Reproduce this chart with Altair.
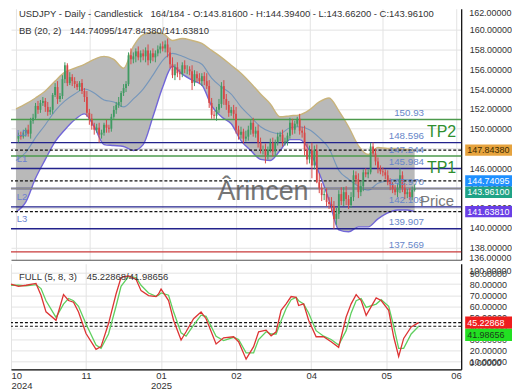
import altair as alt
import pandas as pd

# ---------------- data ----------------
bar_start = 2
first_open = 149.0
closes = [
    149.3, 149.2, 149.6, 149.9, 149.5, 150.8, 151.1, 152.3, 151.9, 152.6,
    152.8, 152.2, 151.7, 151.9, 153.4, 154.2, 153.0, 153.3, 155.0, 156.4,
    154.6, 155.2, 154.8, 154.5, 154.2, 154.6, 153.8, 153.2, 151.6, 151.0,
    150.3, 149.9, 150.1, 149.4, 149.6, 150.4, 150.1, 150.0, 151.2, 151.9,
    152.4, 152.7, 153.6, 154.1, 154.5, 157.4, 157.0, 157.3, 157.8, 157.2,
    157.6, 157.3, 157.9, 156.9, 157.6, 157.2, 157.6, 158.0, 158.3, 158.1,
    158.5, 157.7, 156.5, 155.4, 156.2, 155.6, 155.5, 156.4, 156.0, 156.0,
    155.8, 154.6, 155.5, 155.1, 154.8, 155.3, 154.8, 154.3, 152.6, 151.4,
    151.3, 151.9, 152.5, 154.3, 153.0, 152.4, 151.6, 151.9, 151.5, 149.9,
    149.4, 149.7, 149.0, 149.2, 149.9, 150.6, 149.5, 149.8, 148.6, 147.9,
    147.9, 147.3, 147.9, 148.6, 147.7, 148.6, 149.2, 149.4, 148.6, 148.7,
    149.3, 150.6, 149.9, 150.5, 151.0, 149.8, 149.6, 147.9, 146.9, 147.8,
    146.3, 147.8, 144.6, 144.0, 143.3, 143.4, 142.6, 142.4, 142.2, 140.9,
    141.4, 143.4, 142.7, 143.6, 142.9, 142.3, 143.1, 145.3, 144.9, 143.6,
    144.2, 145.6, 145.4, 145.6, 148.2, 147.5, 146.7, 146.0, 145.7, 145.6,
    145.3, 144.6, 144.3, 143.9, 143.6, 144.0, 145.3, 144.0, 143.4, 143.6,
    143.1, 143.816, 143.961,
]
wick_up = [
    0.3, 0.4, 0.3, 0.2, 0.5, 0.3, 0.4, 0.3, 0.5, 0.3,
    0.4, 0.3, 0.5, 0.3, 0.2, 0.4, 0.6, 0.3, 0.4, 0.3,
    0.2, 0.5, 0.3, 0.4, 0.3, 0.2, 0.4, 0.3, 0.6, 0.4,
    0.5, 0.3, 0.4, 0.5, 0.3, 0.2, 0.5, 0.3, 0.3, 0.4,
    0.3, 0.5, 0.2, 0.4, 0.3, 0.3, 0.7, 0.4, 0.3, 0.5,
    0.3, 0.4, 0.3, 0.6, 0.3, 0.5, 0.3, 0.4, 0.3, 0.5,
    0.4, 0.6, 0.5, 0.7, 0.3, 0.5, 0.4, 0.3, 0.5, 0.4,
    0.3, 0.6, 0.4, 0.3, 0.5, 0.3, 0.4, 0.8, 0.6, 0.5,
    0.4, 0.3, 0.5, 0.4, 0.6, 0.5, 0.4, 0.3, 0.5, 0.7,
    0.4, 0.5, 0.3, 0.6, 0.4, 0.3, 0.5, 0.4, 0.6, 0.5,
    0.4, 0.6, 0.3, 0.4, 0.5, 0.3, 0.4, 0.3, 0.5, 0.4,
    0.3, 0.5, 0.4, 0.3, 0.2, 0.5, 0.4, 0.7, 0.6, 0.5,
    0.8, 0.5, 0.6, 0.9, 0.5, 0.4, 0.6, 0.5, 0.7, 0.5,
    0.6, 0.4, 0.7, 0.5, 0.6, 0.4, 0.5, 0.5, 0.4, 0.6,
    0.5, 0.3, 0.4, 0.3, 0.36, 0.4, 0.5, 0.4, 0.3, 0.4,
    0.3, 0.5, 0.4, 0.3, 0.4, 0.5, 0.7, 0.4, 0.5, 0.3,
    0.4, 0.35, 0.433,
]
wick_dn = [
    0.4, 0.3, 0.2, 0.4, 0.3, 0.5, 0.3, 0.2, 0.4, 0.3,
    0.3, 0.5, 0.4, 0.3, 0.4, 0.2, 0.5, 0.3, 0.3, 0.4,
    0.3, 0.2, 0.5, 0.4, 0.3, 0.4, 0.3, 0.5, 0.4, 0.6,
    0.4, 0.5, 0.3, 0.8, 0.4, 0.3, 0.5, 0.4, 0.3, 0.2,
    0.4, 0.3, 0.5, 0.3, 0.4, 0.2, 0.5, 0.4, 0.6, 0.3,
    0.5, 0.4, 0.6, 0.5, 0.3, 0.4, 0.5, 0.3, 0.4, 0.3,
    0.4, 0.5, 0.4, 0.3, 0.5, 0.4, 0.6, 0.3, 0.4, 0.5,
    0.4, 0.7, 0.3, 0.4, 0.3, 0.5, 0.4, 0.3, 0.5, 0.4,
    0.3, 0.5, 0.3, 0.4, 0.6, 0.5, 0.4, 0.3, 0.5, 0.4,
    0.5, 0.4, 0.5, 0.3, 0.4, 0.5, 0.3, 0.4, 0.5, 0.4,
    0.5, 0.8, 0.4, 0.3, 0.5, 0.4, 0.3, 0.5, 0.4, 0.3,
    0.4, 0.3, 0.5, 0.4, 0.3, 0.4, 0.5, 0.6, 0.5, 0.4,
    1.3, 0.4, 0.1, 0.5, 0.6, 0.5, 0.4, 0.5, 0.6, 1.0,
    0.6, 0.5, 0.4, 0.5, 0.6, 0.4, 0.3, 0.4, 0.5, 0.6,
    0.4, 0.5, 0.3, 0.4, 0.2, 0.3, 0.4, 0.5, 0.3, 0.4,
    0.4, 0.3, 0.5, 0.4, 0.3, 0.5, 0.5, 0.4, 0.5, 0.4,
    0.3, 0.3, 0.154,
]

bb_idx = list(range(1, 162, 4)) + [164]
bb_upper = [152.0, 152.5, 153.1, 153.8, 154.8, 155.7, 156.1, 156.5, 157.0, 157.3,
            157.0, 156.1, 158.3, 159.5, 159.7, 159.6, 158.9, 159.1, 158.9, 158.6,
            157.9, 157.2, 156.4, 155.6, 154.6, 153.5, 152.5, 151.2, 151.3, 151.4,
            151.9, 152.7, 153.1, 151.8, 150.2, 148.3, 147.4, 148.1, 148.0, 148.0,
            147.9, 147.8438]
bb_mid = [146.8, 147.6, 149.1, 150.4, 151.8, 152.8, 153.5, 154.0, 153.6, 152.9,
          152.7, 152.2, 153.0, 154.0, 155.4, 156.9, 157.6, 157.3, 156.9, 156.5,
          155.1, 154.2, 153.5, 152.2, 151.2, 150.2, 149.7, 149.5, 150.1, 150.2,
          149.9, 149.1, 148.0, 145.8, 144.9, 144.2, 143.8, 144.5, 144.75, 144.9,
          144.85, 144.74095]
bb_lower = [141.6, 142.6, 145.0, 146.9, 148.7, 149.9, 150.9, 151.5, 150.2, 148.4,
            148.3, 148.2, 147.8, 148.4, 151.2, 154.2, 156.3, 155.5, 154.9, 154.4,
            152.3, 151.2, 150.5, 148.8, 147.8, 146.9, 146.8, 147.8, 148.9, 148.9,
            147.8, 145.5, 142.8, 139.8, 139.6, 140.1, 140.1, 140.9, 141.5, 141.8,
            141.8, 141.6381]

stoch_idx = [1, 4, 7, 11, 13, 15, 19, 22, 24, 26,
             28, 31, 35, 37, 40, 43, 45, 48, 51, 53,
             56, 59, 60, 61, 64, 66, 69, 71, 74, 77,
             79, 83, 86, 90, 92, 95, 98, 100, 103, 105,
             107, 109, 111, 113, 115, 116, 118, 120, 123, 126,
             129, 132, 135, 137, 139, 141, 143, 147, 149, 152,
             154, 156, 158, 161, 164]
stoch_k = [80, 78, 79, 80.6, 70, 55, 47.4, 70.5, 65.2, 63.7,
           54.8, 35.4, 21.2, 23.6, 44.4, 71.1, 86, 87.5, 84.5, 74.1,
           69.7, 68.8, 71.1, 75.5, 65.2, 47.4, 29.6, 37, 48.8, 54.8,
           48.8, 26.0, 31.6, 32.5, 28, 12.3, 23.6, 37, 38.5, 33.4,
           37, 56.3, 62.2, 68.8, 68.1, 60.7, 62.2, 47.4, 32.5, 32.5,
           28, 23, 50.3, 62.2, 70.5, 65.2, 51.8, 67.5, 65.2, 56.3,
           32.5, 14.7, 31, 41.4, 45.22868]
stoch_d = [79, 79, 78.5, 79.5, 76, 65, 50, 62, 67, 65,
           60, 44, 25, 22, 35, 60, 78, 87, 86, 79,
           72, 69, 70, 72, 70, 55, 36, 33, 43, 52,
           51, 33, 29, 32, 30, 18, 18, 30, 37, 35,
           35, 47, 58, 66, 68, 65, 62, 54, 38, 33,
           30, 25, 38, 54, 65, 67, 59, 62, 66, 60,
           42, 22, 22, 35, 41.98656]

levels_navy = [148.596, 145.984, 143.970, 142.109, 139.907]
levels_green = [150.93, 147.244]
levels_red = [137.569]
level_values = [150.93, 148.596, 147.244, 145.984, 143.970, 142.109, 139.907, 137.569]
level_texts = ["150.93", "148.596", "147.244", "145.984", "143.970", "142.109", "139.907", "137.569"]
l_names = ["L0", "L1", "L2", "L3"]
l_values = [148.596, 145.984, 142.109, 139.907]
tp_names = ["TP2", "TP1"]
bb_now = [147.84380, 144.74095, 141.63810]
price_now = 143.961
stoch_now = [45.22868, 41.98656]

x_ticks = [1, 31, 61, 91, 121, 151, 181]
x_month = ["10", "11", "01", "02", "04", "05", "06"]
x_year = ["2024", "", "2025", "", "", "", ""]

header1a = "USDJPY - Daily - Candlestick"
header1b = "164/184 - O:143.81600 - H:144.39400 - L:143.66200 - C:143.96100"
header2a = "BB (20, 2)"
header2b = "144.74095/147.84380/141.63810"
header3a = "FULL (5, 8, 3)"
header3b = "45.22868/41.98656"

# ---------------- layout ----------------
W, H1, H2 = 452, 252, 106
XD = [1, 181]
YD = [136.78, 162.1]
SD = [3.1, 98.4]
FONT = "Liberation Sans"
SX = W / 460.0
UPC, DNC = "#3f9a62", "#d84848"
AFS = 9.0

opens = [first_open] + closes[:-1]
idx = list(range(bar_start, bar_start + len(closes)))
candles = pd.DataFrame({
    "i": idx, "o": opens, "c": closes,
    "h": [max(o, c) + u for o, c, u in zip(opens, closes, wick_up)],
    "l": [min(o, c) - d for o, c, d in zip(opens, closes, wick_dn)],
    "d": ["up" if c >= o else "down" for o, c in zip(opens, closes)],
})
bb = pd.DataFrame({"i": bb_idx, "up": bb_upper, "mid": bb_mid, "lo": bb_lower})
st = pd.DataFrame({"i": stoch_idx, "k": stoch_k, "d": stoch_d})

xsc = alt.Scale(domain=XD, nice=False, zero=False)
ysc = alt.Scale(domain=YD, nice=False, zero=False)
ssc = alt.Scale(domain=SD, nice=False, zero=False)

xax_main = alt.Axis(values=x_ticks, labels=False, ticks=False, title=None, grid=True,
                    gridColor="#e3e3e3", domainColor="#555555", domainWidth=1.2)
expr = "'06'"
for p, m, yv in reversed(list(zip(x_ticks, x_month, x_year))):
    lab = f"['{m}','{yv}']" if yv else f"'{m}'"
    expr = f"datum.value == {p} ? {lab} : ({expr})"
xax_low = alt.Axis(values=x_ticks, labelExpr=expr, labelFlush=True,
                   ticks=False, tickSize=0, title=None, grid=True, gridColor="#e3e3e3",
                   domainColor="#000000", domainWidth=1.2, labelFontSize=9.5,
                   labelColor="#333333", labelPadding=1, labelOverlap=False,
                   labelLineHeight=10, labelFont=FONT)
yax_main = alt.Axis(orient="right", values=list(range(138, 161, 2)), format=".5f", title=None,
                    ticks=False, labelPadding=8, labelFontSize=AFS, labelColor="#333333",
                    labelFont=FONT, domainColor="#000000", domainWidth=1.2, grid=True,
                    gridColor="#e3e3e3", labelOverlap=False)
yax_low = alt.Axis(orient="right", values=list(range(10, 91, 10)), format=".5f", title=None,
                   ticks=False, labelPadding=8, labelFontSize=AFS, labelColor="#333333",
                   labelFont=FONT, domainColor="#000000", domainWidth=1.2, grid=True,
                   gridColor="#e3e3e3", labelOverlap=False)


def X():
    return alt.X("i:Q", scale=xsc, axis=xax_main)


def XL():
    return alt.X("i:Q", scale=xsc, axis=xax_low)


def Y(f):
    return alt.Y(f"{f}:Q", scale=ysc, axis=yax_main)


def S(f):
    return alt.Y(f"{f}:Q", scale=ssc, axis=yax_low)


def txt(s, x, y, size=9.5, color="#333333", align="left", baseline="middle", **kw):
    return alt.Chart(pd.DataFrame({"t": [s]})).mark_text(
        align=align, baseline=baseline, fontSize=size, color=color, font=FONT, **kw
    ).encode(x=alt.value(x), y=alt.value(y), text="t:N")


area = alt.Chart(bb).mark_area(color="#b9b9b9", interpolate="monotone").encode(
    x=X(), y=Y("lo"), y2=alt.Y2("up:Q"))
up_line = alt.Chart(bb).mark_line(color="#c9b47c", strokeWidth=1.4, interpolate="monotone").encode(x=X(), y=Y("up"))
lo_line = alt.Chart(bb).mark_line(color="#7166d8", strokeWidth=1.4, interpolate="monotone").encode(x=X(), y=Y("lo"))
mid_line = alt.Chart(bb).mark_line(color="#7596bb", strokeWidth=1.1, interpolate="monotone").encode(x=X(), y=Y("mid"))

rule_navy = alt.Chart(pd.DataFrame({"v": levels_navy})).mark_rule(color="#23238c", strokeWidth=1.3).encode(y=Y("v"))
rule_green = alt.Chart(pd.DataFrame({"v": levels_green})).mark_rule(color="#4d9a4d", strokeWidth=1.6).encode(y=Y("v"))
rule_red = alt.Chart(pd.DataFrame({"v": levels_red})).mark_rule(color="#c83a3a", strokeWidth=1.3).encode(y=Y("v"))
rule_bb = alt.Chart(pd.DataFrame({"v": bb_now})).mark_rule(color="#111111", strokeWidth=1.2, strokeDash=[3, 2]).encode(y=Y("v"))
rule_price = alt.Chart(pd.DataFrame({"v": [price_now]})).mark_rule(color="#8c8c8c", strokeWidth=1.5).encode(y=Y("v"))

watermark = txt("Ârincen", 253, 184, size=27, color="#555555", align="center", opacity=0.8)

ccol = alt.Color("d:N", scale=alt.Scale(domain=["up", "down"], range=[UPC, DNC]), legend=None)
wicks = alt.Chart(candles).mark_rule(strokeWidth=1).encode(x=X(), y=Y("l"), y2=alt.Y2("h:Q"), color=ccol)
bodies = alt.Chart(candles).mark_bar(size=1.8).encode(x=X(), y=Y("o"), y2=alt.Y2("c:Q"), color=ccol)

lvl_lbl = alt.Chart(pd.DataFrame({"v": level_values, "t": level_texts})).mark_text(
    align="right", baseline="middle", dy=-6.5, fontSize=9.8, color="#6786c9", font=FONT
).encode(x=alt.value(422 * SX), y=Y("v"), text="t:N")
l_lbl = alt.Chart(pd.DataFrame({"v": l_values, "t": l_names})).mark_text(
    align="left", baseline="middle", dy=-9.5, fontSize=9.5, color="#6a7fd0", font=FONT
).encode(x=alt.value(6 * SX), y=Y("v"), text="t:N")
tp_lbl = alt.Chart(pd.DataFrame({"v": levels_green, "t": tp_names})).mark_text(
    align="left", baseline="middle", dy=12.5, fontSize=16, color="#2f8f2f", font=FONT
).encode(x=alt.value(425 * SX), y=Y("v"), text="t:N")
price_lbl = alt.Chart(pd.DataFrame({"v": [price_now], "t": ["Price"]})).mark_text(
    align="left", baseline="middle", dy=12.5, fontSize=15, color="#7a7a7a", font=FONT
).encode(x=alt.value(418 * SX), y=Y("v"), text="t:N")

box_main = pd.DataFrame({
    "v": [bb_now[0], bb_now[1], price_now - 0.38, bb_now[2]],
    "t": [f"{bb_now[0]:.5f}", f"{bb_now[1]:.5f}", f"{price_now:.5f}", f"{bb_now[2]:.5f}"],
    "fill": ["#e6a33e", "#1e90ff", "#1fa386", "#6a3fe6"],
    "tc": ["#3a2a00", "#ffffff", "#ffffff", "#ffffff"],
})
box_main["y1"] = box_main["v"] + 0.56
box_main["y2"] = box_main["v"] - 0.56
rect_main = alt.Chart(box_main).mark_rect().encode(
    x=alt.value(W + 4), x2=alt.value(W + 51), y=Y("y1"), y2=alt.Y2("y2:Q"),
    color=alt.Color("fill:N", scale=None))
rtxt_main = alt.Chart(box_main).mark_text(align="left", baseline="middle", fontSize=AFS, font=FONT).encode(
    x=alt.value(W + 6), y=Y("v"), text="t:N", color=alt.Color("tc:N", scale=None))
extra136 = alt.Chart(pd.DataFrame({"v": [136.97], "t": ["136.00000"]})).mark_text(
    align="left", baseline="middle", fontSize=AFS, color="#333333", font=FONT
).encode(x=alt.value(W + 8), y=Y("v"), text="t:N")
top162 = txt("162.00000", W + 8, 0.5, size=AFS, baseline="top")

main = alt.layer(
    area, up_line, lo_line, mid_line,
    rule_navy, rule_green, rule_red, rule_bb, rule_price,
    watermark, wicks, bodies,
    lvl_lbl, l_lbl, tp_lbl, price_lbl,
    txt(header1a, 8, 5.5), txt(header1b, 140, 5.5),
    txt(header2a, 8, 22), txt(header2b, 59, 22),
    rect_main, rtxt_main, extra136, top162,
).properties(width=W, height=H1)

# ---------------- stochastic panel ----------------
s_rules = alt.Chart(pd.DataFrame({"v": stoch_now})).mark_rule(
    color="#111111", strokeWidth=1.2, strokeDash=[3, 2]).encode(y=S("v"))
d_line = alt.Chart(st).mark_line(color="#5fcf5f", strokeWidth=1.3).encode(x=XL(), y=S("d"))
k_line = alt.Chart(st).mark_line(color="#dd3434", strokeWidth=1.3).encode(x=XL(), y=S("k"))

box_low = pd.DataFrame({
    "v": [stoch_now[0], stoch_now[0] - 11.0],
    "t": [f"{stoch_now[0]:.5f}", f"{stoch_now[1]:.5f}"],
    "fill": ["#ee1d1d", "#22e022"],
    "tc": ["#ffffff", "#1b3d1b"],
})
box_low["y1"] = box_low["v"] + 5.6
box_low["y2"] = box_low["v"] - 5.6
rect_low = alt.Chart(box_low).mark_rect().encode(
    x=alt.value(W + 4), x2=alt.value(W + 51), y=S("y1"), y2=alt.Y2("y2:Q"),
    color=alt.Color("fill:N", scale=None))
rtxt_low = alt.Chart(box_low).mark_text(align="left", baseline="middle", fontSize=AFS, font=FONT).encode(
    x=alt.value(W + 6), y=S("v"), text="t:N", color=alt.Color("tc:N", scale=None))
extra_low = alt.Chart(pd.DataFrame({"v": [92.2, 8.4], "t": ["100.00000", "0.00000"]})).mark_text(
    align="left", baseline="middle", fontSize=AFS, color="#333333", font=FONT
).encode(x=alt.value(W + 8), y=S("v"), text="t:N")

lower = alt.layer(
    s_rules, d_line, k_line,
    txt(header3a, 8, 13), txt(header3b, 76, 13),
    extra_low, rect_low, rtxt_low,
).properties(width=W, height=H2)

chart = alt.vconcat(main, lower, spacing=0).properties(padding=0).configure_view(
    strokeWidth=0).configure_text(font=FONT)

chart.save("out.html", embed_options={"renderer": "svg", "actions": False})
